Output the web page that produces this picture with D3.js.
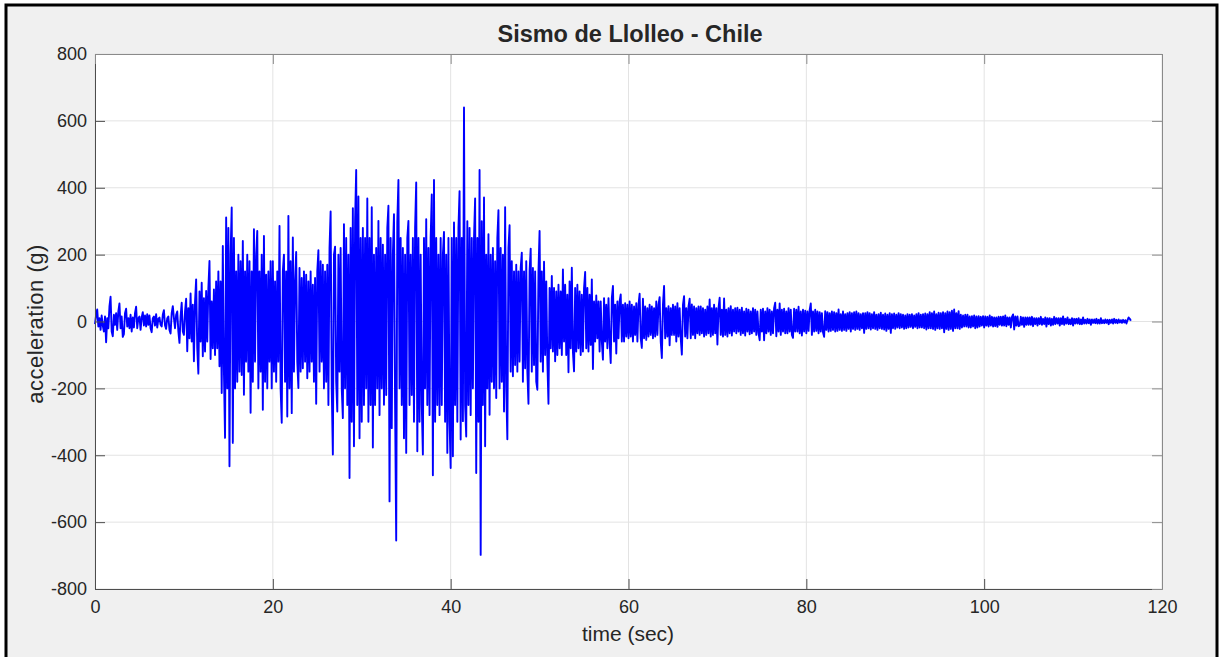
<!DOCTYPE html>
<html>
<head>
<meta charset="utf-8">
<script src="https://cdn.jsdelivr.net/npm/d3@7/dist/d3.min.js"></script>
<style>
  body { margin: 0; background: #ffffff; }
  text { font-family: "Liberation Sans", Arial, Helvetica, sans-serif; fill: #262626; }
</style>
</head>
<body>
<svg id="chart" width="1219" height="657"></svg>
<script>
/**
 * Sismo de Llolleo - Chile
 * Aceleración registrada, leída a mano de la figura (paso de 0.125 s).
 */

var dt = 0.125; // segundos entre muestras

// aceleración (g), un arreglo por cada 10 segundos
var acc_00_10 = [-8, 20, 36, -15, 10, -25, 18, -12, -30, 15, -62, 10, -20, 45, 74, -30,
  -44, 20, -10, 25, -25, 30, 54, -20, 15, -46, -38, 25, 38, -15, 10, -20,
  20, -30, 12, -18, 25, 44, -20, 10, 15, -25, 12, 28, -12, 18, -15, 22,
  -10, 18, -20, -32, 10, 15, -12, 22, -18, 8, 12, -10, -15, 20, 34, -12,
  -22, 10, 15, -25, -36, 25, 46, 10, -20, 20, 30, -30, -64, 15, 56, -30];
var acc_10_20 = [-40, 30, 68, -89, 40, -50, 84, -60, 50, -119, 60, 126, -80, -156, 90, -60,
  116, -104, 70, -90, 91, -60, 100, 181, -112, 60, -80, 96, -100, 120, -80, 150,
  -134, 120, -214, 226, -150, -348, 311, -200, 280, -433, 200, 341, -363, 250, -200, 150,
  -180, 200, -150, 180, -160, 241, -219, 150, -120, 200, -150, 180, -273, 150, -180, 276,
  -120, 200, 271, -200, 150, -150, 200, -264, 256, -180, 140, -200, 150, -120, 180, -200];
var acc_20_30 = [180, -150, 120, -180, 150, -120, 286, -200, -303, 150, 200, -180, 150, -284, 316, -200,
  180, -274, 251, -150, 120, 208, -120, -199, 160, -150, 130, -140, 150, -120, 140, -170,
  120, -150, 150, -120, 110, -180, 130, -246, 150, 213, -150, 180, -120, 170, -200, 150,
  -180, 170, -250, 220, 329, -200, -398, 200, 224, -180, -269, 200, -150, 220, -200, -289,
  291, -200, 250, -250, 200, -468, 280, -300, 339, -373, 300, 453, -250, 374, -349, 250];
var acc_30_40 = [-300, 280, -250, 250, -200, 368, -300, 250, -250, 342, -377, 200, -250, 220, -200, 301,
  -280, 250, -200, 230, -249, 200, -220, 280, 346, -538, 250, -319, 200, 321, -250, -655,
  300, 423, -200, 250, -250, 220, -349, 200, -393, 250, 301, -250, 200, -220, 250, -300,
  280, 416, -388, 250, -300, 200, -250, -398, 250, -200, 306, -250, 220, -280, 250, 380,
  -460, 423, -300, 250, -250, 200, -280, 250, -250, 200, 268, -300, 200, -393, 250, -300];
var acc_40_50 = [-438, 250, -403, 296, -250, 250, -300, 280, 390, -353, 250, -298, 640, -250, -344, 300,
  -250, 280, -280, 250, -200, 250, 368, -453, 250, -300, 453, -698, 300, -250, 371, -373,
  200, -200, 261, -279, 200, -180, 220, -200, 180, -229, 250, 333, -200, 220, -180, 200,
  -269, 342, -200, -352, 220, 288, -150, 180, -164, 150, -130, 170, -150, 150, -120, 160,
  206, -180, 150, -140, 180, -150, -246, 150, 218, -150, 160, -130, 150, -180, -204, 150];
var acc_50_60 = [271, -120, 150, -150, 179, -100, 120, -120, -246, 100, -80, 136, -90, 100, -119, 90,
  -100, 110, -80, 90, -100, 156, -60, 110, -100, 80, -152, 120, -80, 161, -90, -149,
  100, -90, 110, -80, 90, -100, 80, -90, 100, 148, -80, 100, -90, 80, -70, 126,
  -142, 60, -60, 78, -50, 60, -90, 60, -60, -114, 70, -60, 50, -80, 70, -60,
  -124, 70, 106, -60, 50, -96, 60, -50, 60, 81, -60, 50, -60, 55, -45, 50];
var acc_60_70 = [-50, 60, -45, 50, -60, 45, -40, 55, -60, 50, 83, -50, -79, 68, -50, 45,
  -55, 40, -45, 50, -40, 45, -50, 40, -45, 60, -40, 50, 73, -60, -109, 50,
  106, -50, 40, -45, 46, -71, 40, -40, 50, -40, 45, -60, 55, -45, 40, -50,
  -99, 50, 76, -45, 40, -50, 45, 68, -50, 51, -40, 45, -50, 40, -35, 45,
  -40, 45, -35, 40, -45, 35, -40, 45, -35, 66, -45, 40, -40, 50, -35, 40];
var acc_70_80 = [-69, 40, 71, -40, 35, -45, 69, -40, 35, -45, 40, -35, 46, -42, 35, -30,
  40, -35, 41, -30, 35, -40, 41, -35, 30, -42, 38, -30, 35, -38, 30, -35,
  40, -30, 35, -40, 30, -35, -56, 35, -30, 38, -56, 30, -35, 40, -30, 35,
  -40, 30, -35, 40, 56, -44, 35, -30, 54, -40, 35, -30, 38, -35, 30, -35,
  40, -30, 35, -40, -49, 38, -30, 35, -30, 44, -35, 30, -42, 35, -30, 32];
var acc_80_90 = [-35, 30, -28, 35, 54, -40, 30, -30, 35, -28, 30, -35, 28, -30, 25, -32,
  -46, 31, -25, 28, -30, 25, -28, 30, -25, 28, -30, 25, -28, 36, -25, 22,
  -28, 30, -25, 22, -28, 25, -22, 28, -30, 25, -22, 28, -25, 30, -22, 25,
  -25, 22, -20, 25, -34, 25, -22, 28, -20, 25, -24, 22, -20, 28, -22, 20,
  -25, 22, -20, 26, -22, 20, -24, 24, -28, 20, -22, 25, -34, 22, -20, 24];
var acc_90_100 = [-22, 20, -18, 25, -20, 22, -18, 20, -22, 18, -20, 22, -18, 20, -16, 22,
  -20, 18, -16, 22, -20, 25, -18, 20, -18, 22, -20, 24, -24, 22, -20, 28,
  -20, 25, -22, 30, -25, 22, -20, 26, -22, 25, -20, 28, -32, 25, -22, 30,
  -25, 28, -22, 32, -28, 36, -20, 25, -20, 31, -22, 20, -18, 18, -15, 20,
  -15, 20, -18, 15, -18, 16, -15, 18, -20, 15, -18, 16, -15, 14, -12, 16];
var acc_100_110 = [-18, 15, -12, 14, -15, 18, -12, 14, -15, 12, -14, 12, -16, 14, -10, 14,
  -12, 15, -12, 18, -14, 12, -10, 12, -18, 14, 21, -24, 15, -12, 15, -14,
  -12, 14, -10, 12, -16, 12, -10, 12, -10, 12, -10, 14, -14, 10, -8, 10,
  -12, 10, -8, 14, -10, 8, -8, 12, -15, 10, -8, 10, -12, 8, -10, 14,
  -8, 10, -6, 10, -12, 10, -8, 15, -10, 8, -6, 12, -8, 6, -8, 10];
var acc_110_end = [-12, 8, -6, 8, -6, 10, -8, 6, -8, 12, -6, 5, -6, 8, -5, 6,
  -10, 6, -4, 6, -5, 8, -6, 5, -6, 10, -5, 4, -5, 6, -4, 5,
  -8, 5, -4, 6, -6, 8, -4, 5, -5, 6, -3, 4, -4, 5, -3, 4,
  -6, 4, 12, 8, 2];

var xTicks = [0, 20, 40, 60, 80, 100, 120];
var yTicks = [-800, -600, -400, -200, 0, 200, 400, 600, 800];

var titleText = "Sismo de Llolleo - Chile";
var xLabel = "time (sec)";
var yLabel = "acceleration (g)";

var accel = [].concat(acc_00_10, acc_10_20, acc_20_30, acc_30_40, acc_40_50, acc_50_60,
  acc_60_70, acc_70_80, acc_80_90, acc_90_100, acc_100_110, acc_110_end);

// Zusammen mit der Zeit als Paare
var series = accel.map(function(a, i) { return { t: i * dt, a: a }; });

var svg = d3.select("#chart");

// Rahmen der Figur
svg.append("rect")
  .attr("x", 6).attr("y", 5)
  .attr("width", 1211).attr("height", 700)
  .attr("fill", "#f0f0f0")
  .attr("stroke", "#000").attr("stroke-width", 3);

var plot = { left: 95, right: 1162, top: 54, bottom: 589 };

var x = d3.scaleLinear().domain([0, 120]).range([plot.left, plot.right]);
var y = d3.scaleLinear().domain([-800, 800]).range([plot.bottom, plot.top]);

// Zeichenfläche
svg.append("rect")
  .attr("x", plot.left).attr("y", plot.top)
  .attr("width", plot.right - plot.left).attr("height", plot.bottom - plot.top)
  .attr("fill", "#fff");

// Gitter
var grid = svg.append("g").attr("stroke", "#e3e3e3").attr("stroke-width", 1);
grid.selectAll(".gx").data(xTicks).enter().append("line")
  .attr("x1", function(d) { return x(d); }).attr("x2", function(d) { return x(d); })
  .attr("y1", plot.top).attr("y2", plot.bottom);
grid.selectAll(".gy").data(yTicks).enter().append("line")
  .attr("y1", function(d) { return y(d); }).attr("y2", function(d) { return y(d); })
  .attr("x1", plot.left).attr("x2", plot.right);

// Signal
var line = d3.line()
  .x(function(d) { return x(d.t); })
  .y(function(d) { return y(d.a); });

svg.append("path")
  .datum(series)
  .attr("fill", "none")
  .attr("stroke", "#0000ff")
  .attr("stroke-width", 1.9)
  .attr("stroke-linejoin", "round")
  .attr("d", line);

// Achsen (Ticks nach innen, auf allen vier Seiten)
function styleAxis(g, color) {
  g.select(".domain").attr("stroke", color);
  g.selectAll(".tick line").attr("stroke", color);
  g.selectAll(".tick text")
    .attr("font-size", 18)
    .attr("fill", "#262626")
    .style("font-family", "'Liberation Sans', Arial, sans-serif");
}

// MATLAB schreibt ein normales Minus
var plainNum = function(d) { return String(d); };

var bottomAxis = svg.append("g")
  .attr("transform", "translate(0," + plot.bottom + ")")
  .call(d3.axisBottom(x).tickValues(xTicks).tickFormat(plainNum)
    .tickSize(-10).tickSizeOuter(0).tickPadding(11));
styleAxis(bottomAxis, "#4d4d4d");

var leftAxis = svg.append("g")
  .attr("transform", "translate(" + plot.left + ",0)")
  .call(d3.axisLeft(y).tickValues(yTicks).tickFormat(plainNum)
    .tickSize(-10).tickSizeOuter(0).tickPadding(8));
styleAxis(leftAxis, "#4d4d4d");

var topAxis = svg.append("g")
  .attr("transform", "translate(0," + plot.top + ")")
  .call(d3.axisTop(x).tickValues(xTicks).tickSize(-10).tickSizeOuter(0).tickFormat(""));
styleAxis(topAxis, "#8a8a8a");

var rightAxis = svg.append("g")
  .attr("transform", "translate(" + plot.right + ",0)")
  .call(d3.axisRight(y).tickValues(yTicks).tickSize(-10).tickSizeOuter(0).tickFormat(""));
styleAxis(rightAxis, "#8a8a8a");

// Beschriftungen
svg.append("text")
  .attr("x", 630).attr("y", 42)
  .attr("text-anchor", "middle")
  .attr("font-size", 23.5).attr("font-weight", "bold")
  .attr("fill", "#000")
  .text(titleText);

svg.append("text")
  .attr("x", 628).attr("y", 641)
  .attr("text-anchor", "middle")
  .attr("font-size", 21)
  .text(xLabel);

svg.append("text")
  .attr("transform", "translate(43,324) rotate(-90)")
  .attr("text-anchor", "middle")
  .attr("font-size", 22)
  .attr("letter-spacing", 0.5)
  .text(yLabel);
</script>
</body>
</html>
